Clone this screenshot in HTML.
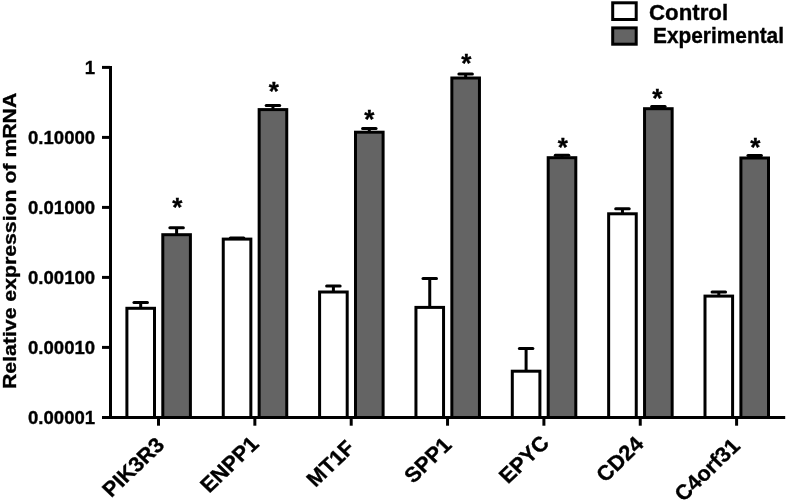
<!DOCTYPE html><html lang="en"><head><meta charset="utf-8"><title>Relative expression of mRNA</title><style>html,body{margin:0;padding:0;background:#fff}
#c{position:relative;width:787px;height:500px;overflow:hidden;background:#fff}
#c svg{position:absolute;left:0;top:0;display:block}
.t{position:absolute;white-space:nowrap;line-height:1;font-family:"Liberation Sans",Arial,Helvetica,sans-serif;font-weight:bold;color:#000;-webkit-text-stroke:0.35px #000}</style></head><body><div id="c"><svg width="787" height="500" viewBox="0 0 787 500">
<rect width="787" height="500" fill="#fff"/>
<g fill="none" stroke="#000" stroke-width="3">
<path d="M140.70 307.80V302.40"/><path d="M133.95 302.40H147.45" stroke-linecap="round"/><rect x="126.90" y="308.30" width="27.60" height="109.20" fill="#fff"/>
<path d="M176.60 234.20V227.70"/><path d="M169.85 227.70H183.35" stroke-linecap="round"/><rect x="162.80" y="234.70" width="27.60" height="182.80" fill="#646464"/>
<path d="M237.05 238.60V237.90"/><path d="M230.30 237.90H243.80" stroke-linecap="round"/><rect x="223.25" y="239.10" width="27.60" height="178.40" fill="#fff"/>
<path d="M272.95 109.10V105.40"/><path d="M266.20 105.40H279.70" stroke-linecap="round"/><rect x="259.15" y="109.60" width="27.60" height="307.90" fill="#646464"/>
<path d="M333.40 291.50V285.90"/><path d="M326.65 285.90H340.15" stroke-linecap="round"/><rect x="319.60" y="292.00" width="27.60" height="125.50" fill="#fff"/>
<path d="M369.30 131.70V128.60"/><path d="M362.55 128.60H376.05" stroke-linecap="round"/><rect x="355.50" y="132.20" width="27.60" height="285.30" fill="#646464"/>
<path d="M429.75 306.90V278.60"/><path d="M423.00 278.60H436.50" stroke-linecap="round"/><rect x="415.95" y="307.40" width="27.60" height="110.10" fill="#fff"/>
<path d="M465.65 77.50V73.90"/><path d="M458.90 73.90H472.40" stroke-linecap="round"/><rect x="451.85" y="78.00" width="27.60" height="339.50" fill="#646464"/>
<path d="M526.10 370.70V348.60"/><path d="M519.35 348.60H532.85" stroke-linecap="round"/><rect x="512.30" y="371.20" width="27.60" height="46.30" fill="#fff"/>
<path d="M562.00 157.20V155.20"/><path d="M555.25 155.20H568.75" stroke-linecap="round"/><rect x="548.20" y="157.70" width="27.60" height="259.80" fill="#646464"/>
<path d="M622.45 213.30V208.70"/><path d="M615.70 208.70H629.20" stroke-linecap="round"/><rect x="608.65" y="213.80" width="27.60" height="203.70" fill="#fff"/>
<path d="M658.35 108.20V106.40"/><path d="M651.60 106.40H665.10" stroke-linecap="round"/><rect x="644.55" y="108.70" width="27.60" height="308.80" fill="#646464"/>
<path d="M718.80 295.60V291.90"/><path d="M712.05 291.90H725.55" stroke-linecap="round"/><rect x="705.00" y="296.10" width="27.60" height="121.40" fill="#fff"/>
<path d="M754.70 157.50V155.50"/><path d="M747.95 155.50H761.45" stroke-linecap="round"/><rect x="740.90" y="158.00" width="27.60" height="259.50" fill="#646464"/>
<path d="M102 417.5H785.2"/>
<path d="M110.5 66V419"/>
<path d="M102 67.4H110"/>
<path d="M102 137.4H110"/>
<path d="M102 207.4H110"/>
<path d="M102 277.4H110"/>
<path d="M102 347.4H110"/>
<path d="M158.50 418V425.7"/>
<path d="M254.85 418V425.7"/>
<path d="M351.20 418V425.7"/>
<path d="M447.55 418V425.7"/>
<path d="M543.90 418V425.7"/>
<path d="M640.25 418V425.7"/>
<path d="M736.60 418V425.7"/>
<rect x="612.7" y="2.8" width="23.5" height="16.7" fill="#fff"/>
<rect x="612.7" y="27.9" width="23.5" height="16.3" fill="#646464"/>
</g></svg>
<div class="t " style="font-size:18px;right:691.70px;top:59.06px;transform-origin:100% 0;transform:scaleX(1.03);">1</div>
<div class="t " style="font-size:18px;right:691.70px;top:129.06px;transform-origin:100% 0;transform:scaleX(1.03);">0.10000</div>
<div class="t " style="font-size:18px;right:691.70px;top:199.06px;transform-origin:100% 0;transform:scaleX(1.03);">0.01000</div>
<div class="t " style="font-size:18px;right:691.70px;top:269.06px;transform-origin:100% 0;transform:scaleX(1.03);">0.00100</div>
<div class="t " style="font-size:18px;right:691.70px;top:339.06px;transform-origin:100% 0;transform:scaleX(1.03);">0.00010</div>
<div class="t " style="font-size:18px;right:691.70px;top:409.06px;transform-origin:100% 0;transform:scaleX(1.03);">0.00001</div>
<div class="t " style="font-size:21.5px;left:649.30px;top:2.50px;transform-origin:0 0;transform:scaleX(1.035);">Control</div>
<div class="t " style="font-size:21.5px;left:652.70px;top:26.30px;transform-origin:0 0;transform:scaleX(0.97);">Experimental</div>
<div class="t " style="font-size:19px;left:16.3px;top:388.5px;transform-origin:0 0;transform:rotate(-90deg) scaleX(1.118) translateY(-16.08px);">Relative expression of mRNA</div>
<div class="t " style="font-size:21px;right:621.80px;top:445.90px;transform-origin:100% 0;transform:scaleX(1.045) rotate(-45deg) translateY(-17.78px);">PIK3R3</div>
<div class="t " style="font-size:21px;right:526.75px;top:445.30px;transform-origin:100% 0;transform:scaleX(1.045) rotate(-45deg) translateY(-17.78px);">ENPP1</div>
<div class="t " style="font-size:21px;right:430.70px;top:448.80px;transform-origin:100% 0;transform:scaleX(1.045) rotate(-45deg) translateY(-17.78px);">MT1F</div>
<div class="t " style="font-size:21px;right:334.15px;top:445.90px;transform-origin:100% 0;transform:scaleX(1.045) rotate(-45deg) translateY(-17.78px);">SPP1</div>
<div class="t " style="font-size:21px;right:237.00px;top:443.60px;transform-origin:100% 0;transform:scaleX(1.045) rotate(-45deg) translateY(-17.78px);">EPYC</div>
<div class="t " style="font-size:21px;right:142.05px;top:445.00px;transform-origin:100% 0;transform:scaleX(1.045) rotate(-45deg) translateY(-17.78px);">CD24</div>
<div class="t " style="font-size:21px;right:45.90px;top:446.50px;transform-origin:100% 0;transform:scaleX(1.045) rotate(-45deg) translateY(-17.78px);">C4orf31</div>
<div class="t " style="font-size:26px;left:172.24px;top:193.69px;">*</div>
<div class="t " style="font-size:26px;left:268.64px;top:78.49px;">*</div>
<div class="t " style="font-size:26px;left:364.14px;top:105.69px;">*</div>
<div class="t " style="font-size:26px;left:461.24px;top:50.49px;">*</div>
<div class="t " style="font-size:26px;left:557.64px;top:134.29px;">*</div>
<div class="t " style="font-size:26px;left:652.34px;top:84.99px;">*</div>
<div class="t " style="font-size:26px;left:750.24px;top:134.49px;">*</div></div></body></html>
